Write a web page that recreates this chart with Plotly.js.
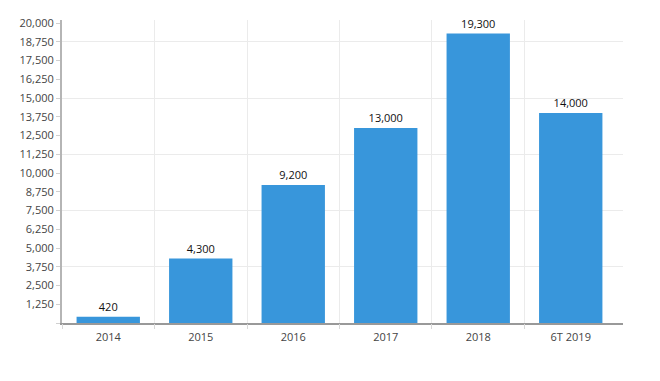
<!DOCTYPE html>
<html>
<head>
<meta charset="utf-8">
<script src="https://cdn.plot.ly/plotly-3.0.1.min.js"></script>
<style>html,body{margin:0;padding:0;background:#fff;}#chart{width:660px;height:381px;}</style>
</head>
<body>
<div id="chart"></div>
<script>
var categories = ['2014', '2015', '2016', '2017', '2018', '6T 2019'];
var values = [420, 4300, 9200, 13000, 19300, 14000];
var yTickVals = [0, 1250, 2500, 3750, 5000, 6250, 7500, 8750, 10000, 11250, 12500, 13750, 15000, 16250, 17500, 18750, 20000];
var yTickText = ['', '1,250', '2,500', '3,750', '5,000', '6,250', '7,500', '8,750', '10,000', '11,250', '12,500', '13,750', '15,000', '16,250', '17,500', '18,750', '20,000'];
var gridVals = [3750, 7500, 11250, 15000, 18750];
var xBoundaries = [-0.5, 0.5, 1.5, 2.5, 3.5, 4.5];

var fmt = function(v){ return v.toLocaleString('en-US'); };

var traces = [{
  type: 'bar',
  x: categories,
  y: values,
  marker: {color: '#3896db'},
  text: values.map(fmt),
  textposition: 'outside',
  cliponaxis: false,
  textfont: {family: 'Open Sans, sans-serif', size: 11, color: '#111'},
  hoverinfo: 'none'
}, {
  type: 'scatter',
  x: [0],
  y: [0],
  xaxis: 'x2',
  yaxis: 'y2',
  mode: 'none',
  hoverinfo: 'none',
  showlegend: false
}];

var yr = [0, 20200];
var xr = [-0.5, 5.565];
var layout = {
  width: 660, height: 381,
  margin: {l: 62, r: 37, t: 20, b: 58},
  paper_bgcolor: '#fff', plot_bgcolor: 'rgba(0,0,0,0)',
  showlegend: false,
  bargap: 0.315,
  font: {family: 'Open Sans, sans-serif', size: 11, color: '#444'},
  xaxis: {
    type: 'category',
    range: xr,
    showgrid: false,
    ticks: '',
    ticklabelstandoff: 3,
    showline: true, linecolor: '#999', linewidth: 1.5,
    tickfont: {size: 11, color: '#444'},
    zeroline: false, fixedrange: true
  },
  xaxis2: {
    type: 'linear', range: xr, overlaying: 'x', side: 'bottom',
    tickmode: 'array', tickvals: xBoundaries,
    showticklabels: false,
    ticks: 'outside', ticklen: 5, tickcolor: '#d9d9d9',
    showgrid: true, gridcolor: '#ebebeb', gridwidth: 1,
    showline: false, zeroline: false, fixedrange: true
  },
  yaxis: {
    range: yr,
    tickmode: 'array', tickvals: yTickVals, ticktext: yTickText,
    showgrid: false,
    ticks: 'outside', ticklen: 4, tickcolor: '#d0d0d0',
    showline: true, linecolor: '#b5b5b5', linewidth: 2,
    tickfont: {size: 11, color: '#444'},
    zeroline: false, fixedrange: true
  },
  yaxis2: {
    range: yr, overlaying: 'y', side: 'left',
    tickmode: 'array', tickvals: gridVals,
    showticklabels: false, ticks: '',
    showgrid: true, gridcolor: '#ebebeb', gridwidth: 1,
    showline: false, zeroline: false, fixedrange: true
  }
};

Plotly.newPlot('chart', traces, layout, {displayModeBar: false, staticPlot: true});
</script>
</body>
</html>
